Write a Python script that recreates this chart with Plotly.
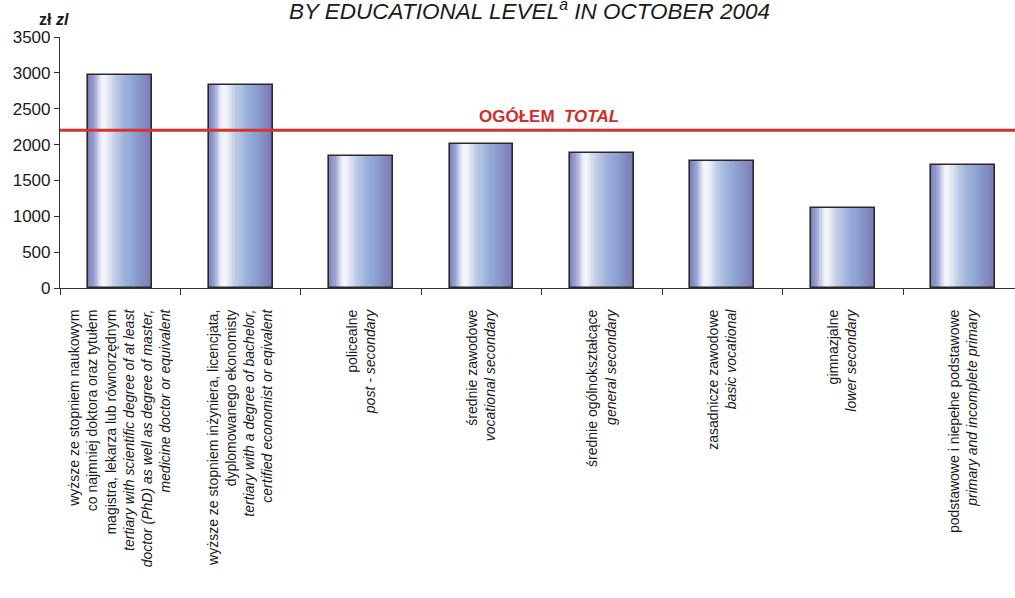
import plotly.graph_objects as go

# ---- data ----
categories = [
    "wyższe ze stopniem naukowym<br>co najmniej doktora oraz tytułem<br>magistra, lekarza lub równorzędnym<br><i>tertiary with scientific degree of at least</i><br><i>doctor (PhD) as well as degree of master,</i><br><i>medicine doctor or equivalent</i>",
    "wyższe ze stopniem inżyniera, licencjata,<br>dyplomowanego ekonomisty<br><i>tertiary with a degree of bachelor,</i><br><i>certified economist or eqivalent</i>",
    "policealne<br><i>post - secondary</i>",
    "średnie zawodowe<br><i>vocational secondary</i>",
    "średnie ogólnokształcące<br><i>general secondary</i>",
    "zasadnicze zawodowe<br><i>basic vocational</i>",
    "gimnazjalne<br><i>lower secondary</i>",
    "podstawowe i niepełne podstawowe<br><i>primary and incomplete primary</i>",
]
wages = [2970, 2830, 1840, 2010, 1880, 1770, 1115, 1715]
total_wage = 2200
y_ticks = [0, 500, 1000, 1500, 2000, 2500, 3000, 3500]

FONT = "Liberation Sans, Arial, sans-serif"

# ---- gradient styling for bars ----
stops = [
    (0.00, (0x78, 0x80, 0xbc)),
    (0.10, (0xa0, 0xa8, 0xd6)),
    (0.20, (0xee, 0xf1, 0xf9)),
    (0.26, (0xf4, 0xf6, 0xfb)),
    (0.40, (0xc4, 0xcf, 0xe8)),
    (0.58, (0x9c, 0xb1, 0xda)),
    (0.72, (0x8c, 0xa2, 0xd2)),
    (0.86, (0x84, 0x8c, 0xc2)),
    (1.00, (0x7a, 0x78, 0xb0)),
]


def grad(t):
    for (t0, c0), (t1, c1) in zip(stops[:-1], stops[1:]):
        if t0 <= t <= t1:
            f = (t - t0) / (t1 - t0) if t1 > t0 else 0
            c = [round(a + (b - a) * f) for a, b in zip(c0, c1)]
            return f"rgb({c[0]},{c[1]},{c[2]})"
    return "rgb(122,120,176)"


BAR_W = 0.53
N = 30
sw = BAR_W / N

fig = go.Figure()
for i in range(N):
    fig.add_trace(go.Bar(
        x=categories, y=wages,
        width=sw * 1.6 if i < N - 1 else sw,
        offset=-BAR_W / 2 + i * sw,
        marker=dict(color=grad((i + 0.5) / N), line=dict(width=0)),
        showlegend=False, hoverinfo="skip",
    ))
# outline
fig.add_trace(go.Bar(
    x=categories, y=wages, width=BAR_W,
    marker=dict(color="rgba(0,0,0,0)", line=dict(color="#2a2a2a", width=1.6)),
    showlegend=False,
))

# total line
fig.add_shape(type="line", xref="paper", x0=0, x1=1, yref="y",
              y0=total_wage, y1=total_wage,
              line=dict(color="#d8312e", width=3))

fig.add_annotation(
    x=3.56, y=total_wage, xref="x", yref="y", yanchor="bottom", yshift=2,
    text="<b>OGÓŁEM  <i>TOTAL</i></b>", showarrow=False,
    font=dict(family=FONT, size=17, color="#d42b2b"),
)

fig.add_annotation(
    x=0.492, y=1.108, xref="paper", yref="paper", yanchor="middle",
    text="<i>BY EDUCATIONAL LEVEL<sup>a</sup> IN OCTOBER 2004</i>",
    showarrow=False, font=dict(family=FONT, size=22.5, color="#1a1a1a"),
)

fig.add_annotation(
    x=0.0, y=1.07, xref="paper", yref="paper", xanchor="center", yanchor="middle",
    xshift=-6, text="<b>zł <i>zl</i></b>", showarrow=False,
    font=dict(family=FONT, size=16, color="#1a1a1a"),
)

fig.update_layout(
    width=1015, height=598,
    margin=dict(l=60, r=0, t=37, b=310),
    paper_bgcolor="white", plot_bgcolor="white",
    barmode="overlay",
    bargap=0,
    font=dict(family=FONT, color="#1a1a1a"),
    xaxis=dict(
        type="category", categoryorder="array", categoryarray=categories,
        range=[-0.5, 7.43],
        showline=True, linecolor="#333", linewidth=1.2,
        ticks="outside", tickson="boundaries", ticklen=6, tickcolor="#333",
        ticklabelstandoff=15,
        tickangle=-90, tickfont=dict(family=FONT, size=14, color="#1a1a1a"),
        showgrid=False, zeroline=False,
    ),
    yaxis=dict(
        range=[0, 3500], tickvals=y_ticks,
        showline=True, linecolor="#333", linewidth=1.2,
        ticks="outside", ticklen=5, tickcolor="#333",
        tickfont=dict(family=FONT, size=17, color="#1a1a1a"),
        showgrid=False, zeroline=False,
    ),
)

fig.write_html("out.html",
               config={"displayModeBar": False},
               post_script="document.body.style.margin='0';document.body.style.overflow='hidden';")
